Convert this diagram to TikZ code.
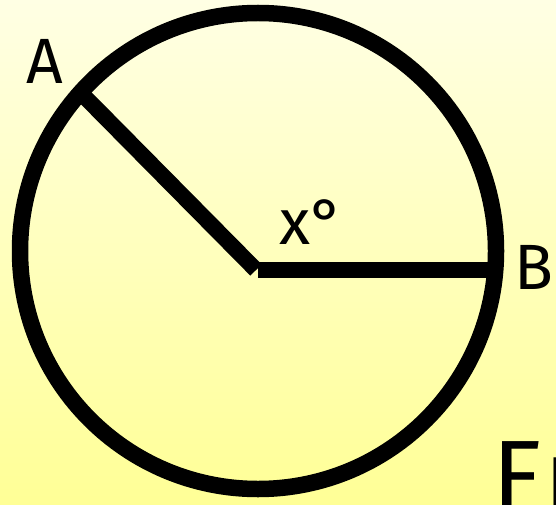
\documentclass[tikz,border=0pt]{standalone}
\usepackage{fontspec}
\setmainfont{Fira Sans}
\definecolor{bgtop}{RGB}{255,255,228}
\definecolor{bgbot}{RGB}{255,255,150}
\begin{document}
\begin{tikzpicture}[x=1pt,y=-1pt,
  thick line/.style={line width=16pt,line cap=butt},
  lbl/.style={inner sep=0pt,font=\fontsize{64}{70}\selectfont}]
\shade[top color=bgtop,bottom color=bgbot] (0,0) rectangle (556,505);
\useasboundingbox (0,0) rectangle (556,505);
\coordinate (O) at (258,251);
\draw[line width=16.5pt] (O) circle[radius=238];
\coordinate (Ca) at (256,270);
\coordinate (Aend) at (80,92);
\coordinate (Cb) at (258,270);
\coordinate (Bend) at (494,270);
\draw[thick line] (Ca) -- (Aend);
\draw[thick line] (Cb) -- (Bend);
\node[lbl] (A) at (45,61) {A};
\node[lbl,anchor=east] (B) at (554,267) {B};
\node[lbl,anchor=base west] (x) at (279,244) {x°};
\node[inner sep=0pt,anchor=base west,font=\fontsize{100}{104}\selectfont] (Fr) at (492,510) {F\kern3pt r};
\end{tikzpicture}
\end{document}
